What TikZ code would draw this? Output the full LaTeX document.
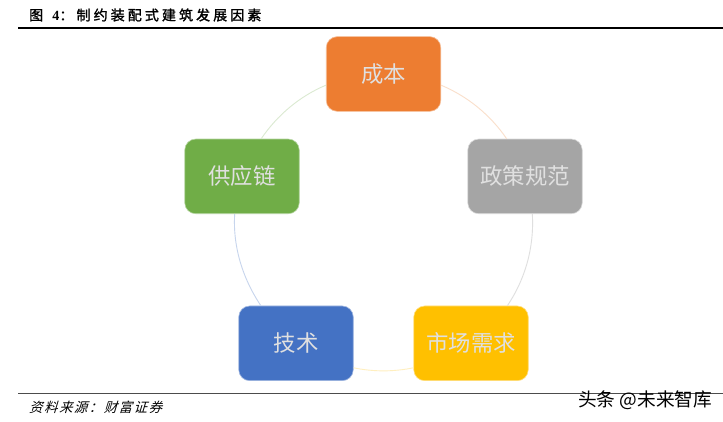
\documentclass[tikz,border=0pt]{standalone}
\usepackage{fontspec}
\setmainfont{Liberation Serif}
\newfontfamily\cjk{Noto Sans CJK SC}
\newfontfamily\cjktitle[LetterSpace=22]{Noto Sans CJK SC}
\newfontfamily\cjkslant[FakeSlant=0.3,LetterSpace=10.5]{Noto Sans CJK SC}
\definecolor{cOrange}{HTML}{ED7D31}
\definecolor{cGray}{HTML}{A5A5A5}
\definecolor{cYellow}{HTML}{FFC000}
\definecolor{cBlue}{HTML}{4472C4}
\definecolor{cGreen}{HTML}{70AD47}
\tikzset{
  factor/.style={rectangle,rounded corners=11pt,minimum width=114.5pt,minimum height=74.7pt,
    inner sep=0pt,line width=0.6pt,text=white!88!black,font=\cjk\fontsize{22.4}{24}\selectfont},
  linkarc/.style={line width=0.9pt},
  rulethick/.style={draw=black,line width=1.5pt},
  rulethin/.style={draw=black!70,line width=1pt},
  caption/.style={inner sep=0pt,anchor=west}
}
\begin{document}
\begin{tikzpicture}[x=1pt,y=1pt]
\useasboundingbox (0,0) rectangle (723,422);
\fill[white] (0,0) rectangle (723,422);
\node[factor,fill=cOrange,draw=cOrange!50!white] (cost) at (383.5,348) {成本};
\node[factor,fill=cGray,draw=cGray!40!white] (policy) at (525,245.6) {政策规范};
\node[factor,fill=cYellow,draw=cYellow!50!white] (market) at (471,78.65) {市场需求};
\node[factor,fill=cBlue,draw=cBlue!50!white] (tech) at (296,78.65) {技术};
\node[factor,fill=cGreen,draw=cGreen!50!white] (supply) at (242,245.6) {供应链};
\draw[linkarc,draw=cOrange!25!white] (cost.-11.4) to[out=-22.7,in=124.3,looseness=.869] (policy.116.3);
\draw[linkarc,draw=cGray!35!white] (policy.-79.4) to[out=-86.5,in=56,looseness=.875] (market.46.1);
\draw[linkarc,draw=cYellow!25!white] (market.203.7) to[out=-168.2,in=-11.8,looseness=.86] (tech.-23.7);
\draw[linkarc,draw=cBlue!30!white] (tech.133.9) to[out=124,in=266.5,looseness=.875] (supply.259.4);
\draw[linkarc,draw=cGreen!25!white] (supply.63.7) to[out=55.7,in=202.7,looseness=.869] (cost.191.4);
\coordinate (upperL) at (18,394);
\coordinate (upperR) at (723,394);
\coordinate (lowerL) at (18,28);
\coordinate (lowerR) at (723,28);
\draw[rulethick] (upperL) -- (upperR);
\draw[rulethin] (lowerL) -- (lowerR);
\node[caption] (title) at (29,407) {\cjktitle\fontsize{14}{16}\selectfont\addfontfeature{FakeBold=1.5}图\ \textbf{\rmfamily 4}：制约装配式建筑发展因素};
\node[caption] (source) at (29,14.5) {\cjkslant\fontsize{13.5}{15}\selectfont 资料来源：财富证券};
\node[caption,text=black] (mark) at (578,22) {\cjk\fontsize{18.7}{20}\selectfont 头条 @未来智库};
\end{tikzpicture}
\end{document}
